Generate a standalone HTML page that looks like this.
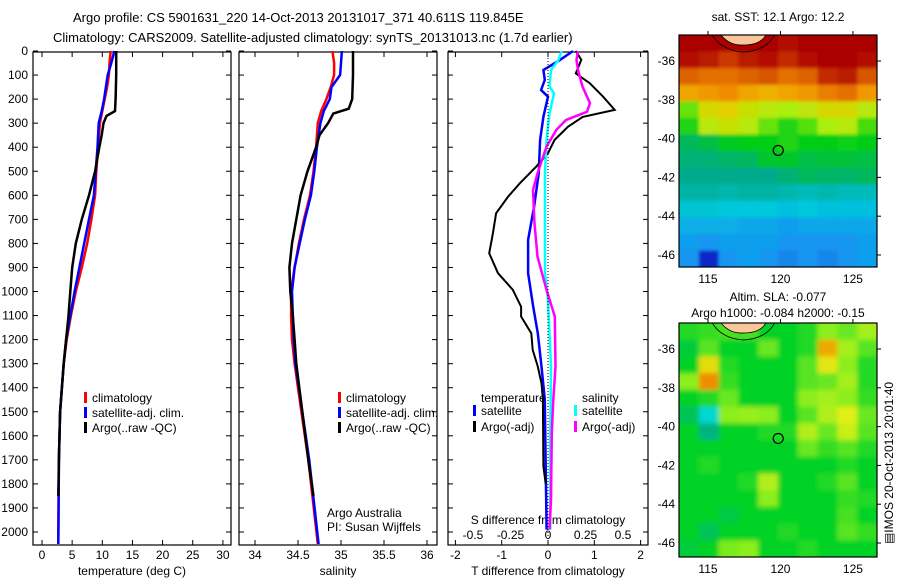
<!DOCTYPE html>
<html><head><meta charset="utf-8">
<style>
html,body{margin:0;padding:0;background:#fff;}
svg{display:block;font-family:"Liberation Sans",sans-serif;}
text{font-size:12px;fill:#000;}
</style></head>
<body>
<svg id="chart" width="900" height="580" viewBox="0 0 900 580" xmlns="http://www.w3.org/2000/svg">
<defs>
<filter id="blurSla" x="-5%" y="-5%" width="110%" height="110%"><feGaussianBlur stdDeviation="2.5"/></filter>
<filter id="blurSst" x="-5%" y="-5%" width="110%" height="110%"><feGaussianBlur stdDeviation="1.5"/></filter>
<clipPath id="clipSst"><rect x="679" y="35" width="198" height="232"/></clipPath>
<clipPath id="clipSla"><rect x="679" y="323" width="198" height="234"/></clipPath>
</defs>
<text x="73" y="22" style="font-size:13px">Argo profile: CS 5901631_220 14-Oct-2013 20131017_371 40.611S 119.845E</text>
<text x="53" y="42" style="font-size:13px">Climatology: CARS2009. Satellite-adjusted climatology: synTS_20131013.nc (1.7d earlier)</text>
<text x="778" y="21" text-anchor="middle">sat. SST: 12.1 Argo: 12.2</text>
<text x="778" y="301" text-anchor="middle">Altim. SLA: -0.077</text>
<text x="778" y="317" text-anchor="middle">Argo h1000: -0.084 h2000: -0.15</text>
<text transform="translate(893,463) rotate(-90)" text-anchor="middle">&#9636;IMOS 20-Oct-2013 20:01:40</text>
<g id="layer"></g>
</svg>
<script>
// ---------- data ----------
const depthTicks = [0,100,200,300,400,500,600,700,800,900,1000,1100,1200,1300,1400,1500,1600,1700,1800,1900,2000];
const tempTicks = [0,5,10,15,20,25,30];
const salTicks = [34,34.5,35,35.5,36];
const salTickLabels = ["34","34.5","35","35.5","36"];
const tdiffTicks = [-2,-1,0,1,2];
const sdiffTicks = [-0.5,-0.25,0,0.25,0.5];
const sdiffTickLabels = ["-0.5","-0.25","0","0.25","0.5"];

const tClimDepth = [0,50,100,150,200,250,300,400,500,600,700,800,900,1000,1100,1200,1300,1400,1500,1700,2050];
const tClim = [11.4,11.2,11.1,10.8,10.4,10.0,9.6,9.3,9.0,8.8,8.2,7.5,6.6,5.6,4.8,4.1,3.6,3.3,3.0,2.8,2.7];
const tSat = [12.0,11.5,10.9,10.6,10.3,9.9,9.4,9.2,8.9,8.6,7.8,7.0,6.2,5.4,4.7,4.0,3.6,3.3,3.0,2.8,2.7];
const tArgoDepth = [0,100,200,250,270,300,350,400,500,600,700,800,900,1000,1100,1200,1300,1400,1500,1700,1850];
const tArgo = [12.3,12.3,12.2,12.1,10.7,10.2,9.9,9.5,8.8,7.8,6.6,5.6,5.0,4.7,4.4,4.0,3.6,3.3,3.0,2.8,2.7];

const sClimDepth = [0,50,100,150,200,250,300,400,500,600,700,800,900,1000,1100,1200,1300,1500,1700,2050];
const sClim = [34.90,34.92,34.92,34.88,34.83,34.77,34.73,34.71,34.68,34.64,34.57,34.51,34.46,34.42,34.42,34.43,34.46,34.54,34.62,34.73];
const sSat = [35.01,35.00,34.99,34.89,34.87,34.80,34.76,34.72,34.69,34.65,34.58,34.52,34.46,34.43,34.44,34.45,34.47,34.55,34.63,34.74];
const sArgoDepth = [0,100,200,240,260,300,350,400,500,600,700,800,900,1000,1100,1200,1300,1500,1700,1850];
const sArgo = [35.14,35.14,35.13,35.09,34.91,34.85,34.75,34.71,34.61,34.53,34.48,34.43,34.40,34.41,34.44,34.46,34.48,34.55,34.62,34.68];

const dtSatDepth = [0,37,79,120,162,190,274,370,509,647,786,924,1063,1174,1312,1450,1727,1990];
const dtSat = [0.54,0.26,-0.1,-0.07,-0.15,0,-0.1,-0.17,-0.2,-0.3,-0.43,-0.43,-0.32,-0.22,-0.14,-0.07,-0.05,-0.03];
const dtArgoDepth = [0,37,93,134,190,245,274,315,370,425,480,550,605,675,758,841,924,993,1063,1104,1174,1243,1312,1382,1450,1727,1800];
const dtArgo = [0.6,0.72,0.6,0.9,1.19,1.44,0.75,0.43,0.14,0,-0.25,-0.61,-0.86,-1.12,-1.19,-1.27,-1.08,-0.76,-0.58,-0.58,-0.36,-0.33,-0.22,-0.14,-0.11,-0.1,-0.05];
const dsSatDepth = [0,37,79,148,176,259,370,509,924,1035,1312,1589,1990];
const dsSat = [0.09,0.07,0.02,0.01,0.04,0.01,-0.01,-0.02,-0.02,0,0.02,0.015,0.015];
const dsArgoDepth = [0,37,79,148,217,253,287,328,398,509,578,717,855,993,1104,1312,1450,1589,1866,1990];
const dsArgo = [0.2,0.19,0.2,0.23,0.28,0.26,0.12,0.055,-0.01,-0.07,-0.1,-0.09,-0.07,-0.01,0.045,0.05,0.035,0.025,0.02,0.01];

const lonTicks = [115,120,125];
const latTicks = [-36,-38,-40,-42,-44,-46];
const argoLon = 119.845, argoLat = -40.611;
const sstGrid = [
 [17,17,17,17,17,16.8,17,17.2,17,17],
 [16.8,16.6,16.2,16.6,16.8,16.4,16.8,17,17,16.8],
 [15.6,15.4,15.4,15.6,15.8,15.4,15.6,16.4,16.6,15.8],
 [14.6,14.8,15,14.6,14.4,14.6,14.8,15.2,15.4,14.8],
 [12.6,13.6,13.8,13.4,13.2,13.0,13.3,13.6,13.6,13.2],
 [12.2,13.2,13.4,13.2,12.6,12.2,12.5,13.0,13.2,12.4],
 [11.4,11.6,11.9,12.0,12.0,12.2,12.0,12.0,12.1,12.0],
 [11.2,11.2,11.3,11.4,11.8,11.8,11.6,11.7,11.7,11.6],
 [11.0,11.0,11.0,11.0,11.0,11.2,11.4,11.3,11.3,11.4],
 [10.8,10.8,10.7,10.8,10.8,10.7,10.6,10.7,10.6,10.6],
 [10.4,10.4,10.3,10.3,10.3,10.2,10.3,10.2,10.2,10.2],
 [10.0,10.0,10.0,9.9,9.9,9.8,9.9,9.9,9.9,9.9],
 [9.8,9.7,9.8,9.8,9.8,9.7,9.7,9.7,9.7,9.8],
 [9.7,9.0,9.7,9.8,9.7,9.6,9.7,9.6,9.7,9.8]
];
const slaGrid = [
 [0.02,0.03,0.04,0.04,0.0,0.0,0.02,0.08,0.06,0.1],
 [-0.02,0.05,0.0,0.0,0.06,0.0,0.02,0.22,0.1,0.05],
 [0.0,0.17,0.02,0.0,0.0,0.0,0.05,0.16,0.08,0.02],
 [0.08,0.26,0.03,0.0,0.0,0.0,0.05,0.06,0.1,0.02],
 [0.0,0.02,0.06,0.0,0.0,0.0,0.08,0.1,0.08,0.03],
 [-0.05,-0.17,0.08,0.09,0.08,0.0,0.05,0.11,0.15,0.06],
 [0.0,-0.1,0.0,0.0,0.02,0.02,0.11,0.06,0.13,0.05],
 [0.0,0.0,0.0,0.0,0.0,0.0,0.06,0.03,0.05,0.02],
 [0.0,0.02,0.0,0.0,0.0,0.0,0.0,0.0,0.02,0.0],
 [0.0,0.0,0.0,0.02,0.11,0.0,0.0,0.02,0.05,0.0],
 [0.0,0.0,0.0,0.0,0.08,0.0,0.0,0.0,0.03,0.02],
 [0.0,0.0,-0.03,0.0,0.0,0.0,0.0,0.0,0.04,0.0],
 [0.0,-0.05,0.0,0.0,0.0,0.02,0.0,0.0,0.05,0.03],
 [-0.02,0.0,0.07,0.08,0.0,0.0,0.02,0.0,0.0,0.0]
];

// ---------- helpers ----------
const NS = "http://www.w3.org/2000/svg";
const layer = document.getElementById('layer');
function mk(tag, attrs, parent){
  const e = document.createElementNS(NS, tag);
  for (const k in attrs) e.setAttribute(k, attrs[k]);
  (parent||layer).appendChild(e);
  return e;
}
const TOP = 52, BOT = 545;
function yD(d){ return 51 + d*0.2405; }
function lin(d0,d1,r0,r1){ return v => r0 + (v-d0)*(r1-r0)/(d1-d0); }
const xT = lin(0,10,42,102.3);
const xS = lin(34,35,255,341);
const xTd = lin(0,1,548,594.3);
const xSd = lin(0,1,548,698);

function panel(name, x0, x1){
  const r = mk('rect',{x:x0,y:TOP,width:x1-x0,height:BOT-TOP,fill:'#fff',stroke:'#000','stroke-width':1.2});
  
  
  depthTicks.forEach(d=>{
    const y = yD(d);
    const t1 = mk('line',{x1:x0,x2:x0+5,y1:y,y2:y,stroke:'#000'});
    
    
    const t2 = mk('line',{x1:x1,x2:x1-5,y1:y,y2:y,stroke:'#000'});
    
    
  });
}
function xticks(vals, labels, sc, x0, x1, ly, tickTop, tickBot){
  vals.forEach((v,i)=>{
    const x = sc(v);
    if (tickTop){ const a = mk('line',{x1:x,x2:x,y1:TOP,y2:TOP+5,stroke:'#000'});
      
       }
    if (tickBot){ const b = mk('line',{x1:x,x2:x,y1:BOT,y2:BOT-5,stroke:'#000'});
      
       }
    const t = mk('text',{x:x,y:ly,'text-anchor':'middle'});
    t.textContent = labels[i];
    
    
  });
}
function series(name, xs, ds, sc, color, w){
  const pts = xs.map((v,i)=> sc(v).toFixed(1)+','+yD(ds[i]).toFixed(1)).join(' ');
  const p = mk('polyline',{points:pts,fill:'none',stroke:color,'stroke-width':w||2.5,'stroke-linejoin':'miter'});
  
  
}
function label(name, x, y, txt, anchor){
  const t = mk('text',{x:x,y:y,'text-anchor':anchor||'start'});
  t.textContent = txt;
  
  
}
function legendEntry(name, x, y, color, txt){
  const b = mk('rect',{x:x,y:y-10,width:3,height:11,fill:color});
  
  
  label(name, x+8, y, txt);
}

// ---------- panel 1 ----------
panel('temperature-panel', 33, 231);
depthTicks.forEach(d=> label('depth-tick-label', 28, yD(d)+4, String(d), 'end'));
xticks(tempTicks, tempTicks.map(String), xT, 33, 231, 559, true, true);
label('temperature-axis-title', 132, 575, 'temperature (deg C)', 'middle');
series('temp-climatology-line', tClim, tClimDepth, xT, '#ff0000');
series('temp-satellite-line', tSat, tClimDepth, xT, '#0000ff');
series('temp-argo-line', tArgo, tArgoDepth, xT, '#000000');
legendEntry('legend-climatology', 84, 402, '#ff0000', 'climatology');
legendEntry('legend-satellite-adj', 84, 417, '#0000ff', 'satellite-adj. clim.');
legendEntry('legend-argo', 84, 432, '#000000', 'Argo(..raw -QC)');

// ---------- panel 2 ----------
panel('salinity-panel', 239, 437);
xticks(salTicks, salTickLabels, xS, 239, 437, 559, true, true);
label('salinity-axis-title', 338, 575, 'salinity', 'middle');
series('sal-climatology-line', sClim, sClimDepth, xS, '#ff0000');
series('sal-satellite-line', sSat, sClimDepth, xS, '#0000ff');
series('sal-argo-line', sArgo, sArgoDepth, xS, '#000000');
legendEntry('legend-sal-climatology', 338, 402, '#ff0000', 'climatology');
legendEntry('legend-sal-satellite-adj', 338, 417, '#0000ff', 'satellite-adj. clim.');
legendEntry('legend-sal-argo', 338, 432, '#000000', 'Argo(..raw -QC)');
label('credit-argo-australia', 327, 517, 'Argo Australia');
label('credit-pi', 327, 531, 'PI: Susan Wijffels');

// ---------- panel 3 ----------
panel('difference-panel', 448, 648);
xticks(tdiffTicks, tdiffTicks.map(String), xTd, 448, 648, 559, true, true);
sdiffTicks.forEach((v,i)=> label('s-diff-tick-label', xSd(v), 539, sdiffTickLabels[i], 'middle'));
label('t-diff-axis-title', 548, 575, 'T difference from climatology', 'middle');
label('s-diff-axis-title', 548, 524, 'S difference from climatology', 'middle');
series('t-diff-satellite-line', dtSat, dtSatDepth, xTd, '#0000ff');
series('t-diff-argo-line', dtArgo, dtArgoDepth, xTd, '#000000', 2);
series('s-diff-satellite-line', dsSat, dsSatDepth, xSd, '#00ffff');
series('s-diff-argo-line', dsArgo, dsArgoDepth, xSd, '#ff00ff');
const zl = mk('line',{x1:548,x2:548,y1:TOP,y2:BOT,stroke:'#000','stroke-dasharray':'1,2'});


label('legend-temperature-header', 481, 402, 'temperature');
label('legend-salinity-header', 582, 402, 'salinity');
legendEntry('legend-t-satellite', 473, 415, '#0000ff', 'satellite');
legendEntry('legend-t-argo', 473, 431, '#000000', 'Argo(-adj)');
legendEntry('legend-s-satellite', 574, 415, '#00ffff', 'satellite');
legendEntry('legend-s-argo', 574, 431, '#ff00ff', 'Argo(-adj)');

// ---------- maps ----------
function interp(stops, v){
  if (v <= stops[0][0]) return stops[0][1];
  for (let i=1;i<stops.length;i++){
    if (v <= stops[i][0]){
      const a=stops[i-1], b=stops[i], f=(v-a[0])/(b[0]-a[0]);
      return [0,1,2].map(k=>Math.round(a[1][k]+(b[1][k]-a[1][k])*f));
    }
  }
  return stops[stops.length-1][1];
}
function toRgb(c){ return 'rgb('+c.join(',')+')'; }
const sstStops = [[9,[10,40,200]],[9.7,[20,150,240]],[10.3,[0,200,220]],[11,[0,170,140]],[12,[0,205,20]],[13,[170,240,10]],[14,[240,200,0]],[15,[240,140,0]],[16,[210,70,0]],[17,[170,0,0]]];
const slaStops = [[-0.2,[0,230,240]],[-0.1,[0,180,130]],[0,[0,210,40]],[0.08,[140,238,30]],[0.15,[225,240,20]],[0.25,[240,140,0]]];

function map(name, x0, x1, y0, y1, latTop, latBot, grid, stops, labelY, clipId, filterId){
  const lonL = 113.0, lonR = 126.66;
  const mx = lin(lonL, lonR, x0, x1);
  const my = lin(latTop, latBot, y0, y1);
  const rows = grid.length, cols = grid[0].length;
  const dLon = (lonR-lonL)/cols, dLat = (latBot-latTop)/rows;
  const clipG = mk('g',{'clip-path':'url(#'+clipId+')'});
  
  
  const g = mk('g',{filter:'url(#'+filterId+')'}, clipG);
  grid.forEach((row,r)=> row.forEach((v,c)=>{
    let xa = mx(lonL+c*dLon), xb = mx(lonL+(c+1)*dLon);
    let ya = my(latTop+r*dLat), yb = my(latTop+(r+1)*dLat);
    if (c===0) xa -= 8; if (c===cols-1) xb += 8;
    if (r===0) ya -= 8; if (r===rows-1) yb += 8;
    const cell = mk('rect',{x:xa,y:ya,width:xb-xa+0.6,height:yb-ya+0.6,fill:toRgb(interp(stops,v))},g);
    
    
  }));
  const coast = mk('path',{d:'M'+mx(115.3)+','+y0+' Q'+mx(115.9)+','+(y0+15)+' '+mx(117.4)+','+(y0+17)+' Q'+mx(119.0)+','+(y0+16)+' '+mx(119.6)+','+y0,fill:'none',stroke:'#000','stroke-width':0.8},clipG);
  
  
  const land = mk('path',{d:'M'+mx(115.9)+','+y0+' Q'+mx(116.5)+','+(y0+11)+' '+mx(117.5)+','+(y0+10)+' Q'+mx(118.6)+','+(y0+10)+' '+mx(119.0)+','+y0+' Z',fill:'#f8c89c',stroke:'#000','stroke-width':0.8},clipG);
  
  
  const fr = mk('rect',{x:x0,y:y0,width:x1-x0,height:y1-y0,fill:'none',stroke:'#000','stroke-width':1.2});
  
  
  lonTicks.forEach(l=>{
    const x = mx(l);
    const t = mk('line',{x1:x,x2:x,y1:y0,y2:y0-4,stroke:'#000'});
    
    
    label('lon-tick-label', x, labelY, String(l), 'middle');
  });
  latTicks.forEach(l=>{
    const y = my(l);
    const t = mk('line',{x1:x1,x2:x1+4,y1:y,y2:y,stroke:'#000'});
    
    
    label('lat-tick-label', 675, y+4, String(l), 'end');
  });
  const c = mk('circle',{cx:mx(argoLon),cy:my(argoLat),r:5,fill:'none',stroke:'#000','stroke-width':1.2});
  
  
}
map('sst-map', 679, 877, 35, 267, -34.66, -46.62, sstGrid, sstStops, 283, 'clipSst', 'blurSst');
map('sla-map', 679, 877, 323, 557, -34.66, -46.72, slaGrid, slaStops, 573, 'clipSla', 'blurSla');
</script>
</body></html>
